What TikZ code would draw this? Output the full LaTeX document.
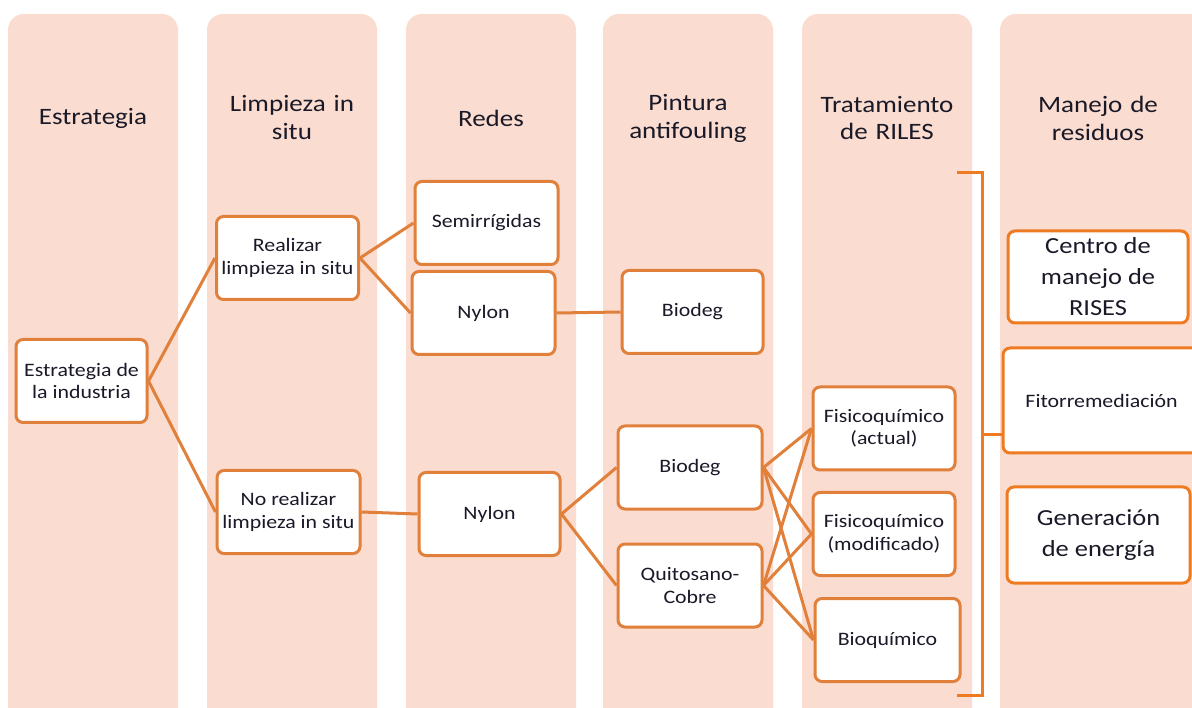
\documentclass[tikz,border=0pt]{standalone}
\usepackage{fontspec}
\setmainfont{Carlito}[FakeStretch=1.15]

\definecolor{peche}{RGB}{251,220,208}
\definecolor{orangebord}{RGB}{224,128,58}
\definecolor{orangevif}{RGB}{238,122,34}
\definecolor{encre}{RGB}{25,25,40}

\tikzset{colonne/.style = {fill=peche, rounded corners=16pt},
         titre/.style = {text width=170pt, align=center, text=encre,
                         font=\fontsize{23.5}{28}\selectfont},
         boite/.style = {draw=orangebord, line width=3pt, rounded corners=7pt,
                         fill=white, align=center, inner sep=0pt, text=encre,
                         font=\fontsize{19}{22.5}\selectfont,
                         minimum width=#1, minimum height=83pt},
         boite/.default=142pt,
         grande/.style = {boite=#1, draw=orangevif, minimum height=92pt,
                          font=\fontsize{23}{31}\selectfont},
         grande/.default=182pt,
         lien/.style = {draw=orangebord, line width=3pt},
        }

\begin{document}
\begin{tikzpicture}[x=1pt, y=-1pt]
  \useasboundingbox[fill=white] (0,0) rectangle (1192,708);
  \clip (0,0) rectangle (1192,708);

  % colonnes
  \foreach \gauche/\droite in {8/178, 207/377, 406/576, 603/773, 802/972, 1000/1225}
    \fill[colonne] (\gauche,14) rectangle (\droite,740);

  % titres
  \node[titre] (t1) at (93,118)   {Estrategia};
  \node[titre] (t2) at (292,118)  {Limpieza in\\situ};
  \node[titre] (t3) at (491,118)  {Redes};
  \node[titre] (t4) at (688,118)  {Pintura\\antifouling};
  \node[titre] (t5) at (887,118)  {Tratamiento\\de RILES};
  \node[titre] (t6) at (1098,118) {Manejo de\\residuos};

  % boites
  \node[boite=131pt] (industrie) at (81.5,381)  {Estrategia de\\la industria};
  \node[boite]       (realiser)  at (287.5,258) {Realizar\\limpieza in situ};
  \node[boite=143pt] (nonreal)   at (288.5,512) {No realizar\\limpieza in situ};
  \node[boite=143pt] (semi)      at (486.5,223) {Semirrígidas};
  \node[boite=143pt] (nylonA)    at (483.5,313) {Nylon};
  \node[boite=141pt] (biodegA)   at (692.5,312) {Biodeg};
  \node[boite=141pt] (nylonB)    at (489.5,514) {Nylon};
  \node[boite=144pt] (biodegB)   at (690,467.5) {Biodeg};
  \node[boite=144pt] (quito)     at (690,585.5) {Quitosano-\\Cobre};
  \node[boite]       (fisA)      at (884,428.5) {Fisicoquímico\\(actual)};
  \node[boite]       (fisM)      at (884,534)   {Fisicoquímico\\(modificado)};
  \node[boite=145pt] (bioq)      at (887.5,640) {Bioquímico};

  \node[grande=180pt] (centre) at (1098,277)   {Centro de\\manejo de\\RISES};
  \node[grande=197pt, minimum height=105pt, font=\fontsize{19}{22.5}\selectfont]
                      (fito)   at (1101.5,400.5) {Fitorremediación};
  \node[grande=183pt, minimum height=96pt]
                      (gene)   at (1098.5,535) {Generación\\de energía};

  % liens
  \draw[lien] (industrie.east) -- (realiser.west);
  \draw[lien] (industrie.east) -- (nonreal.west);
  \draw[lien] (realiser.east) -- (semi.west);
  \draw[lien] (realiser.east) -- (nylonA.west);
  \draw[lien] (nylonA.east) -- (biodegA.west);
  \draw[lien] (nonreal.east) -- (nylonB.west);
  \draw[lien] (nylonB.east) -- (biodegB.west);
  \draw[lien] (nylonB.east) -- (quito.west);
  \foreach \cible in {fisA, fisM, bioq} {
    \draw[lien] (biodegB.east) -- (\cible.west);
    \draw[lien] (quito.east) -- (\cible.west);
  }

  % crochet
  \coordinate (haut) at (957,173);
  \coordinate (bas) at (957,695);
  \coordinate (pince) at (982,435);
  \draw[black!25, line width=3pt, shift={(-3,4)}] (haut) -| (pince |- bas) -- (bas);
  \draw[orangevif, line width=3pt] (haut) -| (pince |- bas) -- (bas);
  \draw[orangevif, line width=3pt] (pince) -- (pince -| fito.west);
\end{tikzpicture}
\end{document}
